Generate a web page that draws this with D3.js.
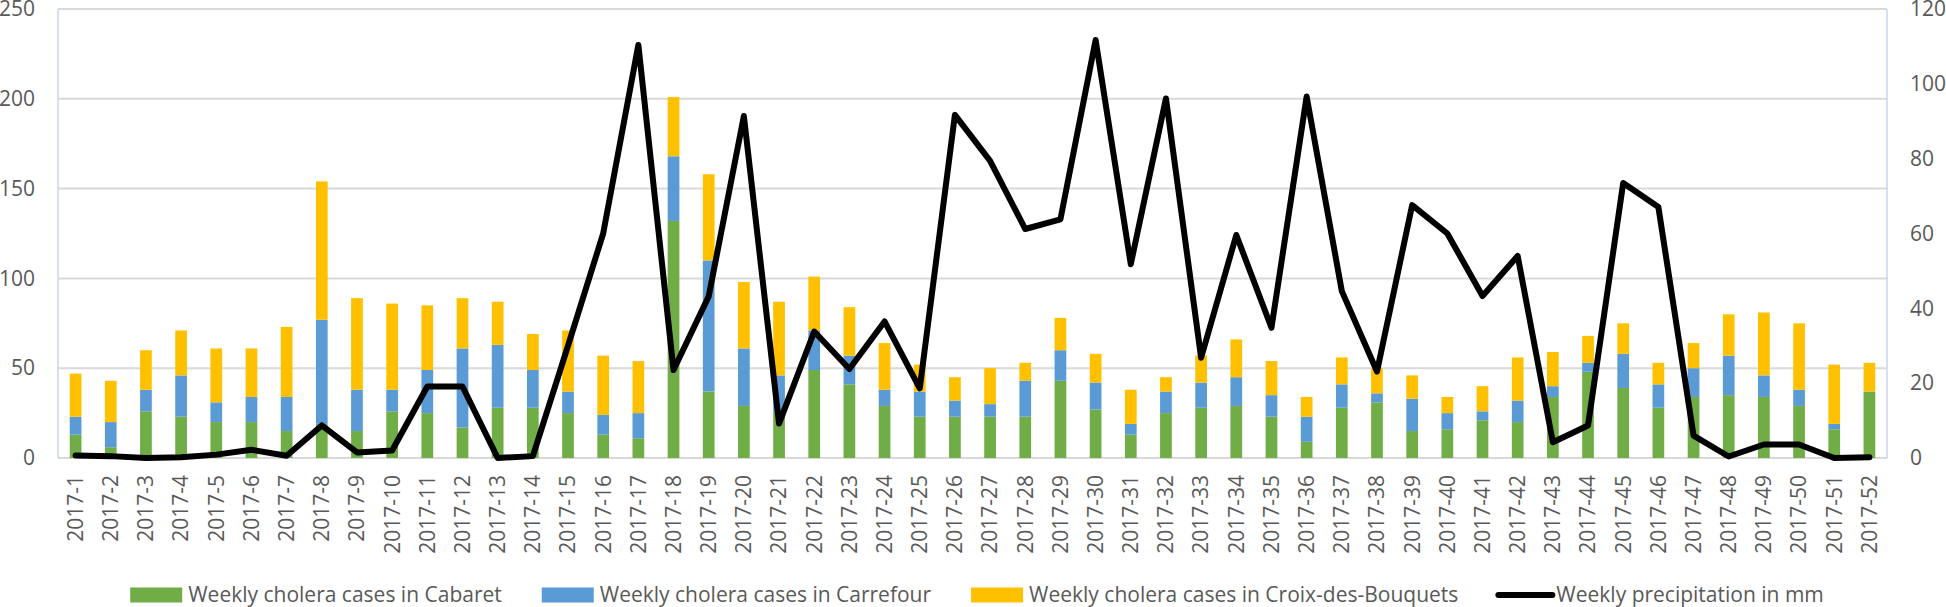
<!DOCTYPE html>
<html>
<head>
<meta charset="utf-8">
<script src="https://cdn.jsdelivr.net/npm/d3@7/dist/d3.min.js"></script>
<style>
  html, body { margin: 0; padding: 0; background: #fff; }
  svg { display: block; }
  text { font-family: "Open Sans", "Noto Sans", sans-serif; fill: #595959; }
</style>
</head>
<body>
<svg id="chart" width="1946" height="607"></svg>
<script>
const weeks = d3.range(1, 53).map(i => "2017-" + i);

const cabaret = [13,6,26,23,20,20,15,19,15,26,25,17,28,28,25,13,11,132,37,29,26,49,41,29,23,23,23,23,43,27,13,25,28,29,23,9,28,31,15,16,21,20,34,48,39,28,34,35,34,29,16,37];
const carrefour = [10,14,12,23,11,14,19,58,23,12,24,44,35,21,12,11,14,36,73,32,20,22,16,9,14,9,7,20,17,15,6,12,14,16,12,14,13,5,18,9,5,12,6,5,19,13,16,22,12,9,3,0];
const croix = [24,23,22,25,30,27,39,77,51,48,36,28,24,20,34,33,29,33,48,37,41,30,27,26,15,13,20,10,18,16,19,8,15,21,19,11,15,14,13,9,14,24,19,15,17,12,14,23,35,37,33,16];
const precipitation = [0.7,0.5,0,0.2,0.9,2.2,0.6,8.7,1.5,2.0,19.1,19.1,0,0.5,30,60,110.4,23.5,43.2,91.4,9.2,33.8,23.8,36.5,18.6,91.7,79.4,61.2,63.8,111.7,51.8,96.1,26.8,59.6,34.8,96.6,44.6,23.1,67.6,60,43.3,54,4.2,8.7,73.5,67.1,6.0,0.4,3.6,3.6,0,0.2];

const leftTicks = [0,50,100,150,200,250];
const rightTicks = [0,20,40,60,80,100,120];

const seriesNames = ["Weekly cholera cases in Cabaret","Weekly cholera cases in Carrefour","Weekly cholera cases in Croix-des-Bouquets"];
const lineName = "Weekly precipitation in mm";
const colors = ["#70ad47","#5b9bd5","#ffc000"];

const svg = d3.select("#chart");
const L = 58, R = 1887, T = 9, B = 458;

const x = d3.scaleBand().domain(weeks).range([L, R]).paddingInner(0.667).paddingOuter(0.3335);
const y = d3.scaleLinear().domain([0, 250]).range([B, T]);
const y2 = d3.scaleLinear().domain([0, 120]).range([B, T]);

// gridlines
svg.append("g").selectAll("line").data(leftTicks).join("line")
  .attr("x1", L).attr("x2", R)
  .attr("y1", d => y(d)).attr("y2", d => y(d))
  .attr("stroke", "#d9d9d9").attr("stroke-width", 2);

// axis lines (pale)
svg.append("line").attr("x1", L).attr("x2", L).attr("y1", T).attr("y2", B)
  .attr("stroke", "#c8d6ee").attr("stroke-width", 1.5);
svg.append("line").attr("x1", R).attr("x2", R).attr("y1", T).attr("y2", B)
  .attr("stroke", "#c8d6ee").attr("stroke-width", 1.5);

// stacked bars
const rows = weeks.map((w, i) => ({week: w, a: cabaret[i], b: carrefour[i], c: croix[i]}));
const stack = d3.stack().keys(["a","b","c"])(rows);
svg.append("g").selectAll("g").data(stack).join("g")
  .attr("fill", (d, i) => colors[i])
  .selectAll("rect").data(d => d).join("rect")
  .attr("x", d => x(d.data.week))
  .attr("width", x.bandwidth())
  .attr("y", d => y(d[1]))
  .attr("height", d => Math.max(0, y(d[0]) - y(d[1])));

// line
const line = d3.line()
  .x((d, i) => x(weeks[i]) + x.bandwidth() / 2)
  .y(d => y2(d));
svg.append("path").datum(precipitation)
  .attr("d", line)
  .attr("fill", "none").attr("stroke", "#000").attr("stroke-width", 6)
  .attr("stroke-linejoin", "round").attr("stroke-linecap", "round");

// left axis labels
const yAxis = d3.axisLeft(y).tickValues(leftTicks).tickSize(0).tickPadding(23);
const gy = svg.append("g").attr("transform", `translate(${L},0)`).call(yAxis);
gy.select(".domain").remove();
gy.selectAll("text").style("font-size", "21px").attr("fill", "#595959").style("font-family", "'Open Sans', sans-serif");

// right axis labels
const y2Axis = d3.axisRight(y2).tickValues(rightTicks).tickSize(0).tickPadding(23);
const gy2 = svg.append("g").attr("transform", `translate(${R},0)`).call(y2Axis);
gy2.select(".domain").remove();
gy2.selectAll("text").style("font-size", "21px").attr("fill", "#595959").style("font-family", "'Open Sans', sans-serif");

// x axis labels
const xAxis = d3.axisBottom(x).tickSize(0).tickPadding(0);
const gx = svg.append("g").attr("transform", `translate(0,${B})`).call(xAxis);
gx.select(".domain").remove();
gx.selectAll("text")
  .style("font-size", "21px").attr("fill", "#595959").style("font-family", "'Open Sans', sans-serif")
  .attr("text-anchor", "end")
  .attr("transform", "translate(0,17) rotate(-90)")
  .attr("x", 0).attr("y", 0).attr("dy", "0.35em");

// legend
const legendItems = seriesNames.map((n, i) => ({name: n, type: "rect", color: colors[i]}))
  .concat([{name: lineName, type: "line", color: "#000"}]);
const lg = svg.append("g");
const ly = 595;
let cx = 0;
const placed = [];
legendItems.forEach((it, i) => {
  const g = lg.append("g");
  if (it.type === "rect") {
    g.append("rect").attr("x", cx).attr("y", ly - 7.5).attr("width", 52).attr("height", 15).attr("fill", it.color);
  } else {
    g.append("line").attr("x1", cx).attr("x2", cx + 54).attr("y1", ly).attr("y2", ly)
      .attr("stroke", "#000").attr("stroke-width", 6).attr("stroke-linecap", "round");
  }
  const t = g.append("text").attr("x", cx + 58).attr("y", ly).attr("dy", "0.35em")
    .style("font-size", "21px").text(it.name);
  const w = t.node().getComputedTextLength();
  cx += 58 + w + 40;
});
const totalW = cx - 40;
lg.attr("transform", `translate(${(1946 - totalW) / 2 + 4},0)`);
</script>
</body>
</html>
